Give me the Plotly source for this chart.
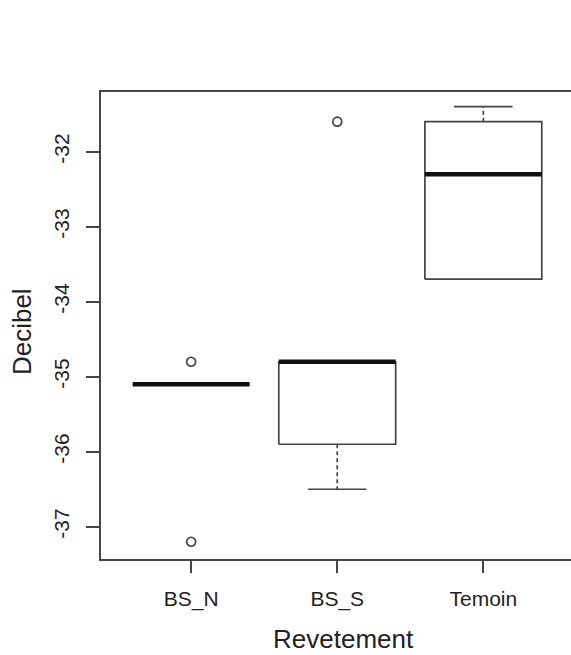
import plotly.graph_objects as go

categories = ["BS_N", "BS_S", "Temoin"]
q1 = [-35.1, -35.9, -33.7]
median = [-35.1, -34.8, -32.3]
q3 = [-35.1, -34.8, -31.6]
lower_whisker = [-35.1, -36.5, -33.7]
upper_whisker = [-35.1, -34.8, -31.4]
outliers = [[-34.8, -37.2], [-31.6], []]

y_ticks = [-37, -36, -35, -34, -33, -32]

BOX_HALF = 0.4
CAP_HALF = 0.2
LINE_COL = "#444444"

fig = go.Figure()

for i, cat in enumerate(categories):
    xc = i + 1
    fig.add_trace(go.Scatter(
        x=[xc - BOX_HALF, xc + BOX_HALF, xc + BOX_HALF, xc - BOX_HALF, xc - BOX_HALF],
        y=[q1[i], q1[i], q3[i], q3[i], q1[i]],
        mode="lines", line=dict(color=LINE_COL, width=1.7),
        hoverinfo="skip", showlegend=False))
    if upper_whisker[i] > q3[i]:
        fig.add_trace(go.Scatter(
            x=[xc, xc], y=[q3[i], upper_whisker[i]], mode="lines",
            line=dict(color=LINE_COL, width=1.7, dash="4px,3px"),
            hoverinfo="skip", showlegend=False))
        fig.add_trace(go.Scatter(
            x=[xc - CAP_HALF, xc + CAP_HALF], y=[upper_whisker[i]] * 2, mode="lines",
            line=dict(color=LINE_COL, width=1.7),
            hoverinfo="skip", showlegend=False))
    if lower_whisker[i] < q1[i]:
        fig.add_trace(go.Scatter(
            x=[xc, xc], y=[q1[i], lower_whisker[i]], mode="lines",
            line=dict(color=LINE_COL, width=1.7, dash="4px,3px"),
            hoverinfo="skip", showlegend=False))
        fig.add_trace(go.Scatter(
            x=[xc - CAP_HALF, xc + CAP_HALF], y=[lower_whisker[i]] * 2, mode="lines",
            line=dict(color=LINE_COL, width=1.7),
            hoverinfo="skip", showlegend=False))
    fig.add_trace(go.Scatter(
        x=[xc - BOX_HALF, xc + BOX_HALF], y=[median[i]] * 2, mode="lines",
        line=dict(color="#111111", width=4.5),
        hoverinfo="skip", showlegend=False))
    if outliers[i]:
        fig.add_trace(go.Scatter(
            x=[xc] * len(outliers[i]), y=outliers[i], mode="markers",
            marker=dict(symbol="circle-open", size=9, color=LINE_COL,
                        line=dict(width=1.7, color=LINE_COL)),
            hoverinfo="skip", showlegend=False))

font_family = "Liberation Sans, Arial, sans-serif"

fig.update_layout(
    width=571, height=655,
    margin=dict(l=101, r=0, t=92, b=96),
    paper_bgcolor="white", plot_bgcolor="white",
    font=dict(family=font_family, color="#222222"),
    xaxis=dict(
        range=[0.383, 3.60],
        tickmode="array", tickvals=[1, 2, 3], ticktext=categories,
        showgrid=False, zeroline=False,
        showline=True, linecolor=LINE_COL, linewidth=1.7, mirror=True,
        ticks="outside", ticklen=12, tickwidth=1.7, tickcolor=LINE_COL,
        tickfont=dict(size=21), ticklabelstandoff=8,
    ),
    yaxis=dict(
        range=[-37.43, -31.204],
        tickmode="array", tickvals=y_ticks, ticktext=[str(v) for v in y_ticks],
        tickangle=-90,
        showgrid=False, zeroline=False,
        showline=True, linecolor=LINE_COL, linewidth=1.7, mirror=False,
        ticks="outside", ticklen=13, tickwidth=1.7, tickcolor=LINE_COL,
        tickfont=dict(size=21), ticklabelstandoff=9,
    ),
    annotations=[
        dict(text="Revetement", xref="paper", yref="paper", x=0.515, y=-0.172,
             xanchor="center", yanchor="middle", showarrow=False,
             font=dict(size=26), borderpad=0),
        dict(text="Decibel", xref="paper", yref="paper", x=-0.168, y=0.486,
             xanchor="center", yanchor="middle", showarrow=False, textangle=-90,
             font=dict(size=26), borderpad=0),
    ],
)

fig.write_html("out.html")
